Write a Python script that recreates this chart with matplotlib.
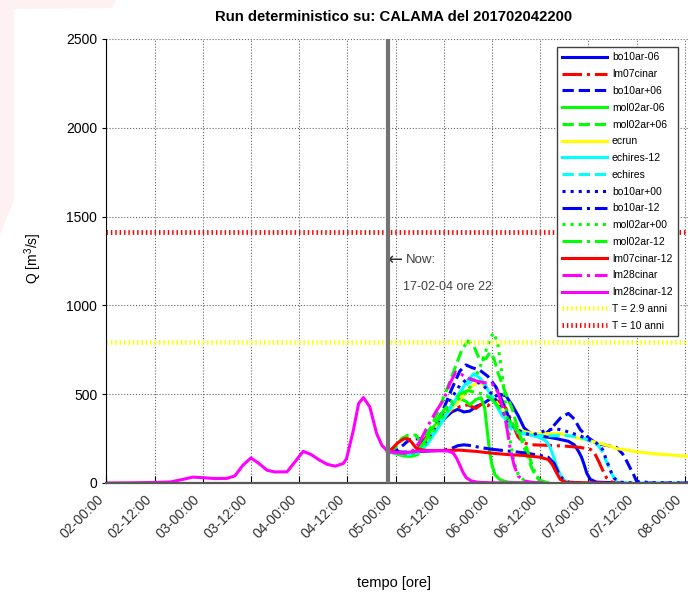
import matplotlib
matplotlib.use('Agg')
import matplotlib.pyplot as plt
from matplotlib.patches import Polygon

plt.rcParams['font.family'] = ['Liberation Sans', 'DejaVu Sans']
plt.rcParams['mathtext.default'] = 'regular'

# time axis in hours since 02-00:00
tick_hours = [0, 12, 24, 36, 48, 60, 72, 84, 96, 108, 120, 132, 144]
tick_labels = ['02-00:00', '02-12:00', '03-00:00', '03-12:00', '04-00:00',
               '04-12:00', '05-00:00', '05-12:00', '06-00:00', '06-12:00',
               '07-00:00', '07-12:00', '08-00:00']
now_hour = 70  # 04-22:00
q_t29 = 793    # T = 2.9 anni
q_t10 = 1413   # T = 10 anni

# observed history (shown under lm28cinar-12)
t_hist = [0, 6, 12, 16, 19, 21.5, 24, 27, 30, 32, 34, 36, 38, 40, 42, 45, 47,
          49, 51, 53, 55, 57, 59, 59.8, 61.5, 62.8, 64, 65.6, 67.3, 68.6, 69.8]
q_hist = [0, 1, 3, 6, 20, 33, 30, 25, 26, 40, 100, 141, 110, 72, 62, 63, 120,
          178, 160, 130, 105, 95, 110, 137, 297, 447, 481, 428, 278, 212, 184]

# forecasts
t_bo10ar_m06 = [70, 72, 74, 76, 78, 80, 82, 84, 86, 87.5, 89, 90.5, 92, 94, 96, 98, 99.5,
                101, 102.5, 104, 106, 108, 110, 112, 115, 116.5, 117.5, 118.3, 119, 119.6,
                120.5, 122, 128]
q_bo10ar_m06 = [178, 172, 165, 168, 190, 250, 310, 360, 400, 415, 400, 405, 430, 450, 480, 500, 490,
                440, 380, 310, 272, 262, 258, 250, 235, 215, 180, 145, 100, 55,
                20, 5, 0]

t_lm07cinar = [70, 72, 74, 76, 78, 80, 82, 84, 86, 88, 90, 92, 93.5, 95, 96.5, 98, 99.5,
               101, 102.5, 104, 106, 110, 114, 118, 120.5, 121.5, 122.5, 123.5, 124.5,
               125.5, 127]
q_lm07cinar = [178, 175, 168, 175, 210, 270, 330, 380, 410, 430, 440, 420, 445, 435, 470, 455, 420,
               340, 260, 225, 215, 212, 208, 200, 190, 170, 125, 75, 30,
               8, 0]

t_bo10ar_p06 = [70, 72, 74, 75.5, 78, 79, 80, 82, 84, 86, 88, 89.5, 91, 93, 95, 97, 99,
                101, 103, 105, 107, 109, 110.5, 113, 115, 116.5, 118, 120, 122, 124.5,
                127, 128.5, 129.5, 130.5, 131.3, 132, 133, 144.8]
q_bo10ar_p06 = [178, 180, 215, 245, 250, 230, 260, 330, 420, 530, 630, 665, 650, 635, 600, 540, 440,
                320, 285, 275, 265, 270, 300, 365, 392, 360, 300, 255, 222, 212,
                200, 165, 125, 80, 45, 10, 0, 0]

t_mol02ar_m06 = [70, 72, 74, 76, 77.5, 79, 81, 83, 85, 86.5, 88, 89.5, 90.5, 92, 93.3, 94.2,
                 94.8, 95.4, 96, 96.8, 98, 100, 104, 110]
q_mol02ar_m06 = [178, 165, 152, 150, 160, 220, 300, 360, 400, 440, 475, 460, 440, 470, 480, 420,
                 300, 180, 100, 45, 18, 5, 0, 0]

t_mol02ar_p06 = [70, 72, 73.5, 75, 77, 78, 79, 81, 83, 85, 87, 88.5, 90, 91.5, 93, 94.5, 95.5,
                 96.5, 97.5, 98.5, 99.5, 101, 102.5, 104, 105, 106, 107, 108, 110]
q_mol02ar_p06 = [178, 200, 250, 268, 270, 240, 255, 320, 430, 540, 660, 750, 800, 770, 690, 700, 735,
                 700, 620, 560, 500, 420, 300, 200, 140, 80, 35, 10, 0]

t_ecrun = [70, 72, 74, 76, 78, 80, 82, 84, 86, 88, 90, 91.5, 93, 94.5, 96, 97.5, 99, 100.5,
           102, 104, 106, 108, 110, 113, 116, 118, 120, 123, 125, 127, 130, 132, 135,
           138, 141, 144.8]
q_ecrun = [178, 172, 165, 168, 185, 240, 310, 370, 420, 470, 520, 555, 565, 540, 500, 440, 380, 330,
           305, 290, 280, 278, 278, 278, 262, 250, 240, 222, 210, 194, 184, 175, 168,
           162, 157, 150]

t_echires_m12 = [70, 72, 74, 76, 78, 80, 82, 84, 86, 88, 90, 91.5, 93, 94.5, 96, 97.5, 99,
                 100.5, 102, 104, 106, 108, 109.5, 110.5, 111.3, 112, 113, 114, 115.5, 118]
q_echires_m12 = [178, 170, 160, 160, 175, 220, 290, 360, 430, 510, 580, 615, 590, 545, 480, 420, 370,
                 330, 300, 280, 268, 255, 235, 200, 150, 100, 45, 15, 3, 0]

t_echires = [70, 72, 74, 76, 78, 80, 82, 84, 86, 88, 90, 92, 93.5, 95, 96.5, 98, 99.5, 101,
             103, 106, 110, 114, 117, 119, 121, 122.5, 123.5, 124.5, 125.5, 126.5, 127.5, 130,
             144.8]
q_echires = [178, 170, 162, 165, 185, 240, 300, 370, 440, 510, 560, 590, 575, 530, 470, 400, 340, 300,
             280, 270, 265, 268, 262, 250, 230, 210, 175, 120, 65, 25, 5, 0,
             0]

t_bo10ar_p00 = [70, 72, 74, 76, 78, 80, 82, 84, 86, 88, 90, 92, 94, 96, 98, 100, 102, 104,
                106, 108, 110, 112, 114, 116, 118, 120, 122, 123.5, 124.5, 125.5, 126.5, 128,
                130, 133, 135, 144.8]
q_bo10ar_p00 = [178, 175, 168, 170, 190, 245, 320, 400, 480, 550, 590, 575, 545, 500, 430, 350, 305, 280,
                270, 285, 300, 305, 295, 280, 265, 245, 225, 190, 130, 70, 25, 5,
                0, 10, 2, 0]

t_bo10ar_m12 = [70, 72, 74, 76, 78, 80, 82, 84, 86, 87.5, 89, 91, 93, 96, 100, 104, 108, 110,
                111.5, 112.5, 113.5, 115, 118]
q_bo10ar_m12 = [178, 176, 174, 175, 178, 180, 182, 185, 195, 210, 215, 210, 200, 190, 180, 170, 155, 145,
                110, 60, 25, 5, 0]

t_mol02ar_p00 = [70, 72, 74, 76, 78, 80, 82, 84, 86, 88, 90, 92, 93.5, 95, 96.3, 97.3, 98,
                 98.8, 99.7, 100.6, 101.5, 102.5, 104, 106]
q_mol02ar_p00 = [178, 170, 160, 162, 180, 235, 310, 380, 440, 480, 520, 600, 680, 780, 845, 800, 700,
                 560, 380, 230, 120, 50, 15, 0]

t_mol02ar_m12 = [70, 72, 74, 76, 78, 80, 82, 84, 86, 88, 90, 92, 94, 96, 98, 100, 101.5, 103,
                 104, 105, 106, 107, 108, 110]
q_mol02ar_m12 = [178, 172, 165, 168, 195, 260, 340, 410, 460, 500, 520, 510, 500, 470, 420, 360, 320, 280,
                 240, 170, 100, 45, 15, 0]

t_lm07cinar_m12 = [70, 71, 72.5, 74, 75, 76, 77, 78, 80, 84, 88, 92, 96, 100, 104, 108, 110,
                   111, 112, 113, 114.5, 124]
q_lm07cinar_m12 = [178, 190, 225, 248, 250, 230, 200, 188, 183, 183, 185, 178, 168, 160, 155, 145, 132,
                   105, 60, 20, 3, 0]

t_lm28cinar = [70, 72, 74, 76, 78, 80, 82, 84, 85.5, 87, 88.5, 90, 92, 94, 96, 97.5, 98.5,
               99.5, 100.5, 101.5, 102.5, 104, 106, 110]
q_lm28cinar = [178, 172, 168, 175, 230, 320, 400, 470, 560, 625, 610, 590, 575, 565, 560, 510, 440,
               340, 200, 100, 40, 12, 3, 0]

t_lm28cinar_m12 = t_hist + [70, 72, 74, 76, 78, 82, 85, 86.3, 87.2, 88, 88.8, 89.6, 90.8,
                            92.5, 96, 107]
q_lm28cinar_m12 = q_hist + [180, 172, 170, 175, 180, 182, 180, 170, 140, 100, 60, 30, 12,
                            4, 1, 0]

series = [
    ('bo10ar-06', t_bo10ar_m06, q_bo10ar_m06, '#0000ff', '-'),
    ('lm07cinar', t_lm07cinar, q_lm07cinar, '#ff0000', '-.'),
    ('bo10ar+06', t_bo10ar_p06, q_bo10ar_p06, '#0000ff', '--'),
    ('mol02ar-06', t_mol02ar_m06, q_mol02ar_m06, '#00ff00', '-'),
    ('mol02ar+06', t_mol02ar_p06, q_mol02ar_p06, '#00ff00', '--'),
    ('ecrun', t_ecrun, q_ecrun, '#ffff00', '-'),
    ('echires-12', t_echires_m12, q_echires_m12, '#00ffff', '-'),
    ('echires', t_echires, q_echires, '#00ffff', '--'),
    ('bo10ar+00', t_bo10ar_p00, q_bo10ar_p00, '#0000ff', ':'),
    ('bo10ar-12', t_bo10ar_m12, q_bo10ar_m12, '#0000ff', '-.'),
    ('mol02ar+00', t_mol02ar_p00, q_mol02ar_p00, '#00ff00', ':'),
    ('mol02ar-12', t_mol02ar_m12, q_mol02ar_m12, '#00ff00', '-.'),
    ('lm07cinar-12', t_lm07cinar_m12, q_lm07cinar_m12, '#ff0000', '-'),
    ('lm28cinar', t_lm28cinar, q_lm28cinar, '#ff00ff', '-.'),
    ('lm28cinar-12', t_lm28cinar_m12, q_lm28cinar_m12, '#ff00ff', '-'),
]

W, H = 688, 593
fig = plt.figure(figsize=(W / 100, H / 100), dpi=100)

# faint pink blob in the top-left corner of the screenshot
blob = [(0, 0), (116, 0), (112, 8), (14, 9), (14, 200), (0, 235)]
fig.patches.append(Polygon([(x / W, 1 - y / H) for x, y in blob], closed=True,
                           transform=fig.transFigure, facecolor='#fdf1f4',
                           edgecolor='none', zorder=0))

ax = fig.add_axes([106.3 / W, 1 - 483 / H, (W - 106.3) / W, (483 - 39) / H])

for name, t, q, c, ls in series:
    ax.plot(t, q, color=c, linestyle=ls, linewidth=2.2, label=name)

x_end = 144.8
ax.plot([0, x_end], [q_t29, q_t29], color='#ffff00', linewidth=3.5,
        dashes=(0.3, 0.6), label='T = 2.9 anni')
ax.plot([0, x_end], [q_t10, q_t10], color='#ff0000', linewidth=3.5,
        dashes=(0.3, 0.6), label='T = 10 anni')

# "now" marker
ax.axvline(now_hour, color='0.45', linewidth=3, zorder=5)
ax.text(now_hour - 0.2, 1255, '\u2190', fontsize=13, family='DejaVu Sans',
        color='#303030', va='center')
ax.text(now_hour + 4.6, 1255, 'Now:', fontsize=9.5, color='#404040', va='center')
ax.text(now_hour + 3.9, 1101, '17-02-04 ore 22', fontsize=9, color='#404040', va='center')

ax.set_xlim(0, x_end)
ax.set_ylim(0, 2500)
ax.set_xticks(tick_hours)
ax.set_xticklabels(tick_labels, rotation=45, ha='right', fontsize=10, color='0.2')
ax.set_yticks([0, 500, 1000, 1500, 2000, 2500])
ax.tick_params(axis='y', labelsize=10, direction='out', length=3)
ax.tick_params(axis='x', direction='in', length=5, pad=7)
ax.grid(True, color='0.4', linestyle=':', linewidth=0.8)
ax.spines['top'].set_visible(False)
ax.spines['right'].set_visible(False)
ax.spines['bottom'].set_color('0.35')
ax.spines['bottom'].set_linewidth(1.6)

leg = ax.legend(loc='upper right', bbox_to_anchor=(683 / W, 1 - 42 / H),
                bbox_transform=fig.transFigure, fontsize=7.5, handlelength=4.3,
                handletextpad=0.5, labelspacing=0.65, borderpad=0.5,
                fancybox=False, framealpha=1, edgecolor='0.25')
leg.get_frame().set_linewidth(1)

fig.text(393.7 / W, 1 - 17 / H, 'Run deterministico su: CALAMA del 201702042200',
         ha='center', va='center', fontsize=10.7, fontweight='bold')
fig.text(33 / W, 1 - 258 / H, 'Q [m$^3$/s]', rotation=90, ha='center', va='center',
         fontsize=10)
fig.text(393.8 / W, 1 - 583 / H, 'tempo [ore]', ha='center', va='center', fontsize=10.5)

fig.savefig('out.png', dpi=100)
